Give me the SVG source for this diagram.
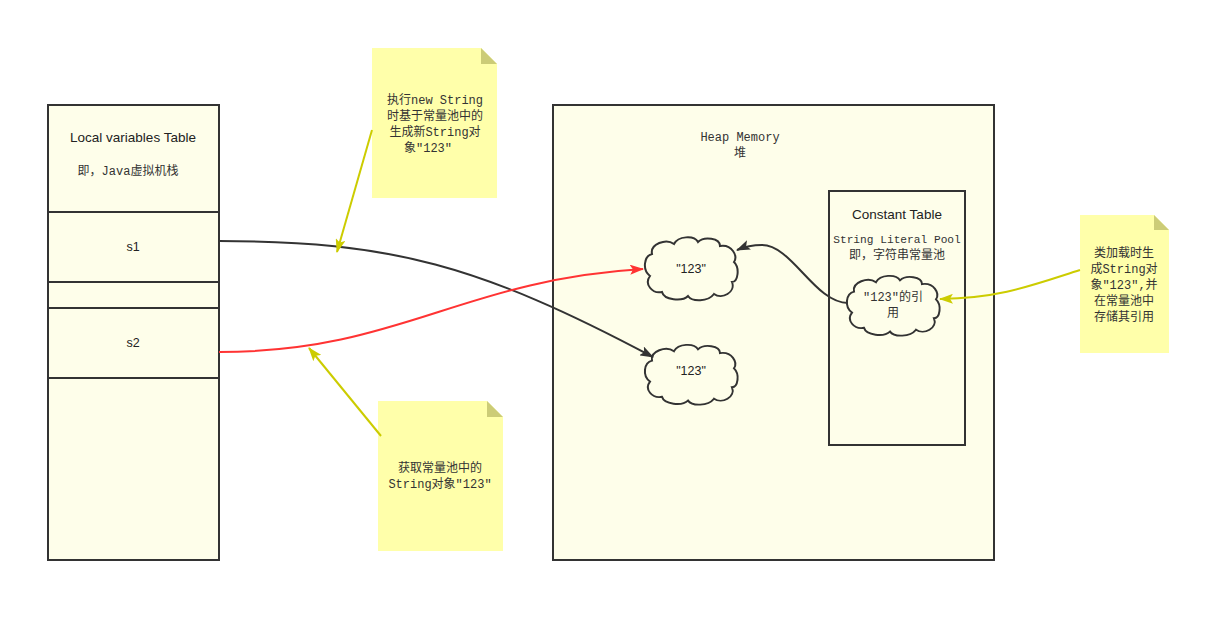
<svg xmlns="http://www.w3.org/2000/svg" width="1232" height="622" viewBox="0 0 1232 622">
<defs>
<style>
.box{fill:#fefeea;stroke:#333;stroke-width:2}
.line{stroke:#333;stroke-width:2}
.sans{font-family:"Liberation Sans",Arial,sans-serif;font-size:12.5px;fill:#222;text-anchor:middle}
.big{font-size:13.5px}
.mono{font-family:"Liberation Mono","Noto Sans CJK SC",monospace;font-size:12px;fill:#333;text-anchor:middle}
.note{fill:#ffffaa}
.fold{fill:#cccc77}
.cloud{fill:#fefeea;stroke:#333;stroke-width:2}
.conn{fill:none;stroke-width:2}
</style>
<marker id="ab" viewBox="0 0 14 10" refX="13" refY="5" markerWidth="14" markerHeight="10" markerUnits="userSpaceOnUse" orient="auto"><path d="M0,0 L14,5 L0,10 L3,5 Z" fill="#333"/></marker>
<marker id="ar" viewBox="0 0 14 10" refX="13" refY="5" markerWidth="14" markerHeight="10" markerUnits="userSpaceOnUse" orient="auto"><path d="M0,0 L14,5 L0,10 L3,5 Z" fill="#ff3333"/></marker>
<marker id="ay" viewBox="0 0 14 10" refX="13" refY="5" markerWidth="14" markerHeight="10" markerUnits="userSpaceOnUse" orient="auto"><path d="M0,0 L14,5 L0,10 L3,5 Z" fill="#cccc00"/></marker>
<path id="cl" d="M-40,-14 C-42,-24 -26,-30 -18,-24 C-14,-32 2,-33 6,-26 C12,-32 28,-30 28,-22 C40,-24 46,-12 42,-6 C48,0 46,14 40,14 C44,24 30,32 22,26 C16,34 0,34 -4,28 C-10,34 -28,32 -30,24 C-40,26 -48,16 -42,8 C-50,2 -48,-12 -40,-14 Z"/>
</defs>
<rect width="1232" height="622" fill="#fff"/>

<g id="local-table">
<rect class="box" x="48" y="105" width="171" height="455"/>
<line class="line" x1="48" y1="212" x2="219" y2="212"/>
<line class="line" x1="48" y1="282" x2="219" y2="282"/>
<line class="line" x1="48" y1="308" x2="219" y2="308"/>
<line class="line" x1="48" y1="378" x2="219" y2="378"/>
<text class="sans big" x="133" y="142">Local variables Table</text>
<text class="mono" x="128" y="175">即，Java虚拟机栈</text>
<text class="sans" x="133" y="251">s1</text>
<text class="sans" x="133" y="347">s2</text>
</g>

<g id="heap">
<rect class="box" x="553" y="105" width="441" height="455"/>
<text class="mono" x="740" y="141">Heap Memory</text>
<text class="mono" x="740" y="157">堆</text>
</g>

<g id="constant-table">
<rect class="box" x="829" y="191" width="136" height="254"/>
<text class="sans big" x="897" y="219">Constant Table</text>
<text class="mono" x="897" y="243" style="font-size:11.2px">String Literal Pool</text>
<text class="mono" x="897" y="259">即，字符串常量池</text>
</g>

<g id="cloud1">
<use href="#cl" class="cloud" transform="translate(692,268)"/>
<text class="sans" x="691" y="273">"123"</text>
</g>
<g id="cloud2">
<use href="#cl" class="cloud" transform="translate(692,374) scale(1,0.95)"/>
<text class="sans" x="691" y="375">"123"</text>
</g>
<g id="cloud3">
<use href="#cl" class="cloud" transform="translate(894,305) scale(1,0.95)"/>
<text class="mono" x="893" y="301">"123"的引</text>
<text class="mono" x="893" y="317">用</text>
</g>

<g id="note1">
<path class="note" d="M372,48 H481 L497,64 V198 H372 Z"/>
<path class="fold" d="M481,48 L497,64 H481 Z"/>
<text class="mono" x="435" y="104">执行new String</text>
<text class="mono" x="435" y="120">时基于常量池中的</text>
<text class="mono" x="435" y="136">生成新String对</text>
<text class="mono" x="428" y="152">象"123"</text>
</g>

<g id="note2">
<path class="note" d="M378,401 H487 L503,417 V551 H378 Z"/>
<path class="fold" d="M487,401 L503,417 H487 Z"/>
<text class="mono" x="440" y="472">获取常量池中的</text>
<text class="mono" x="440" y="488">String对象"123"</text>
</g>

<g id="note3">
<path class="note" d="M1080,215 H1154 L1169,230 V353 H1080 Z"/>
<path class="fold" d="M1154,215 L1169,230 H1154 Z"/>
<text class="mono" x="1124" y="257">类加载时生</text>
<text class="mono" x="1124" y="273">成String对</text>
<text class="mono" x="1124" y="289">象"123",并</text>
<text class="mono" x="1124" y="305">在常量池中</text>
<text class="mono" x="1124" y="321">存储其引用</text>
</g>

<g id="connectors">
<path class="conn" stroke="#333" d="M219,241 C390,241 480,265 653,357" marker-end="url(#ab)"/>
<path class="conn" stroke="#ff3333" d="M219,352 C400,352 460,280 643,269" marker-end="url(#ar)"/>
<path class="conn" stroke="#333" d="M848,303 C815,303 792,245 762,245 C752,245 744,247 737,250" marker-end="url(#ab)"/>
<path class="conn" stroke="#cccc00" d="M372,130 L337,252" marker-end="url(#ay)"/>
<path class="conn" stroke="#cccc00" d="M381,436 L309,348" marker-end="url(#ay)"/>
<path class="conn" stroke="#cccc00" d="M1080,270 C1030,286 1000,298 940,299" marker-end="url(#ay)"/>
</g>
</svg>
